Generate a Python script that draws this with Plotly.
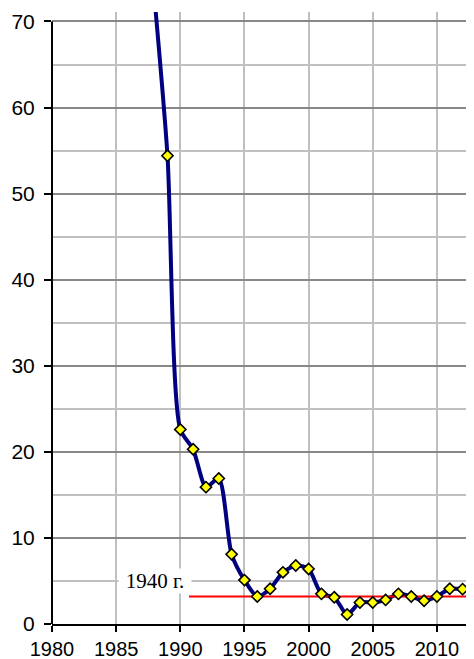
import plotly.graph_objects as go

# ---- data ----
years = [1988, 1989, 1990, 1991, 1992, 1993, 1994, 1995, 1996, 1997, 1998, 1999,
         2000, 2001, 2002, 2003, 2004, 2005, 2006, 2007, 2008, 2009, 2010, 2011,
         2012, 2013]
values = [72.5, 54.4, 22.6, 20.3, 15.9, 16.9, 8.1, 5.1, 3.2, 4.1, 6.0, 6.8,
          6.4, 3.5, 3.1, 1.1, 2.5, 2.5, 2.8, 3.5, 3.2, 2.7, 3.2, 4.1,
          4.05, 3.8]
ref_years = [1990.68, 2014]
ref_level = 3.2
ref_label = "1940 г."
ref_label_pos = (1988.05, 4.95)
x_ticks = [1980, 1985, 1990, 1995, 2000, 2005, 2010]
y_ticks = [0, 10, 20, 30, 40, 50, 60, 70]

fig = go.Figure()
fig.add_trace(go.Scatter(
    x=years, y=values, mode="lines",
    line=dict(color="#000080", width=4, shape="spline", smoothing=0.7),
    hoverinfo="skip", showlegend=False))
fig.add_trace(go.Scatter(
    x=ref_years, y=[ref_level] * len(ref_years), mode="lines",
    line=dict(color="#FF0000", width=2),
    showlegend=False))
fig.add_trace(go.Scatter(
    x=years, y=values, mode="markers",
    marker=dict(symbol="diamond", size=8.6, color="#FFFF00",
                line=dict(color="black", width=1.6)),
    showlegend=False))

fig.add_annotation(
    x=ref_label_pos[0], y=ref_label_pos[1], text=ref_label, showarrow=False,
    font=dict(family="Liberation Serif, Times New Roman, serif", size=21, color="black"),
    bgcolor="white", width=72, borderpad=0, xanchor="center", yanchor="middle")

# y axis line (stops at the top tick, 70)
fig.add_shape(type="line", xref="paper", yref="y", x0=0, x1=0, y0=0, y1=70,
              line=dict(color="black", width=2))

# page body has an 8px default margin, so the figure is sized to fit the window
fig.update_layout(
    width=466, height=651,
    margin=dict(l=44, r=0, t=3.5, b=35, autoexpand=False),
    paper_bgcolor="white", plot_bgcolor="white",
    font=dict(family="Liberation Sans, Arial, sans-serif", size=21, color="black"),
    xaxis=dict(
        range=[1980, 2012.89], tickvals=x_ticks, ticktext=[str(v) for v in x_ticks],
        tickfont=dict(size=20),
        showgrid=True, gridcolor="#C0C0C0", gridwidth=1.5,
        showline=True, linecolor="black", linewidth=2,
        ticks="outside", ticklen=6, tickwidth=1.5, tickcolor="black",
        zeroline=False, ticklabelstandoff=0, automargin=False),
    yaxis=dict(
        range=[0, 71.1], tickvals=y_ticks,
        showgrid=True, gridcolor="#888888", gridwidth=1.5,
        minor=dict(dtick=5, tick0=0, showgrid=True, gridcolor="#C0C0C0", gridwidth=1.5),
        showline=False,
        ticks="outside", ticklen=7, tickwidth=1.5, tickcolor="black",
        zeroline=False, ticklabelstandoff=5, automargin=False),
)

fig.write_html("out.html")
